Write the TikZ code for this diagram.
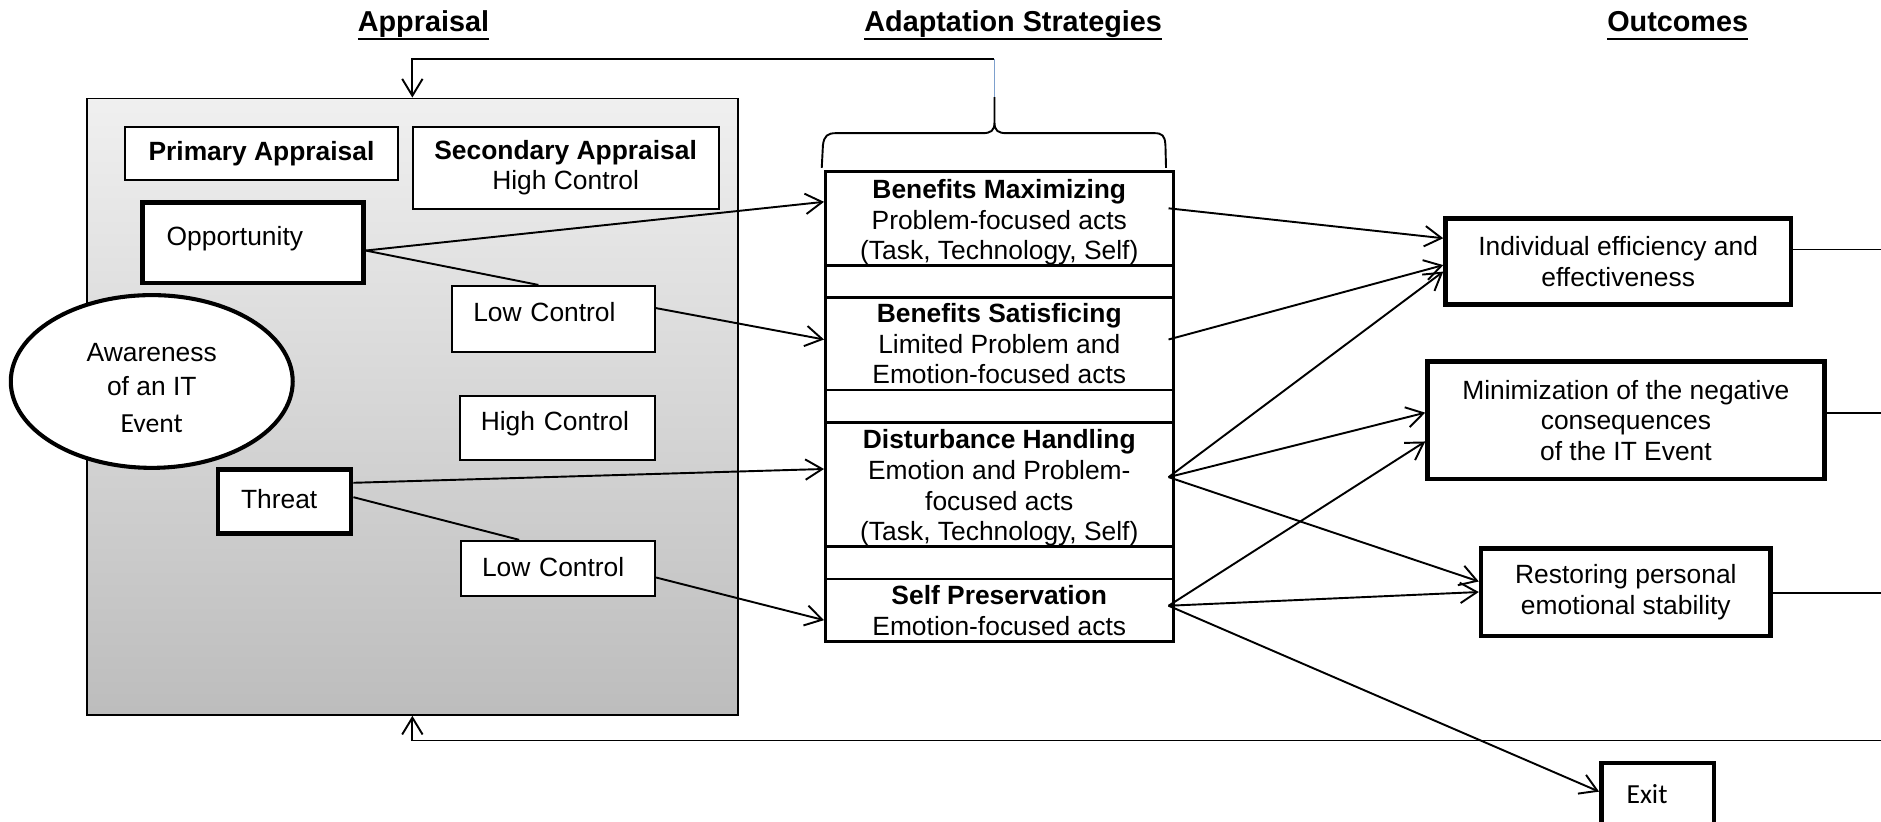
\documentclass[tikz,border=0pt]{standalone}
\usepackage{fontspec}
\setmainfont{Liberation Sans}
\newfontfamily\calib{Carlito}
\usetikzlibrary{arrows.meta,shapes.geometric}
\definecolor{fbblue}{RGB}{125,160,205}
\newcommand{\headtxt}[1]{\vtop{\hbox{#1\vphantom{gp}}\kern0.3pt\hrule height 0.8pt}}

\begin{document}
\begin{tikzpicture}[x=0.5pt,y=-0.5pt,line width=0.8pt,
  font=\fontsize{11}{12.8}\selectfont,
  >={Straight Barb[length=7pt,width=8.5pt]},
  head/.style={font=\fontsize{12}{14}\selectfont\bfseries,anchor=base,inner sep=0pt},
  cbox/.style={draw,fill=white,align=center,inner sep=0pt},
  tlbox/.style={draw,fill=white,anchor=north west,align=left,inner ysep=0pt},
  heavy/.style={line width=1.9pt},
  strat/.style={draw,fill=white,line width=1.1pt,minimum width=145pt,align=center,inner sep=0pt}]
  \useasboundingbox (0,0) rectangle (1568,685);

  % headings
  \node[head] (happr) at (353,26.4) {\headtxt{Appraisal}};
  \node[head] (hstrat) at (844.6,26.4) {\headtxt{Adaptation Strategies}};
  \node[head] (hout) at (1398.5,26.4) {\headtxt{Outcomes}};

  % appraisal panel
  \node[draw,top color=gray!12,bottom color=gray!52,minimum width=271.15pt,minimum height=256.9pt,inner sep=0pt] (appr) at (343.75,339) {};
  \node[cbox,minimum width=114pt,minimum height=22pt] (prim) at (218,128) {\textbf{Primary Appraisal}};
  \node[cbox,minimum width=127.5pt,minimum height=34.2pt] (sec) at (471.5,139.8) {\textbf{Secondary Appraisal}\\High Control};
  \node[tlbox,heavy,inner xsep=10pt,text width=72pt,text height=18pt,text depth=15.65pt] (opp) at (117,166.7) {Opportunity};
  \node[tlbox,inner xsep=9pt,text width=66.8pt,text height=14.9pt,text depth=12.85pt] (lowa) at (375.7,237.5) {Low Control};
  \node[tlbox,inner xsep=8.75pt,text width=63.9pt,text height=14.65pt,text depth=12.25pt] (higha) at (382.5,329) {High Control};
  \node[tlbox,heavy,inner xsep=9.6pt,text width=36.3pt,text height=16pt,text depth=10.65pt] (threat) at (179.8,389.7) {Threat};
  \node[tlbox,inner xsep=8.65pt,text width=63.5pt,text height=14.85pt,text depth=8.05pt] (lowb) at (383.7,450) {Low Control};
  \node[ellipse,draw,fill=white,line width=1.7pt,minimum width=117.5pt,minimum height=72pt,inner sep=0pt,align=center] (aware) at (126.5,318)
    {\rule{0pt}{13pt}Awareness\\[1.5pt]of an IT\\[2.7pt]{\calib\fontsize{11.5}{13}\selectfont Event}};

  % strategies
  \node[strat,minimum height=39.25pt] (bm) at (833,182.25) {\rule{0pt}{11pt}\textbf{Benefits Maximizing}\\Problem-focused acts\\(Task, Technology, Self)};
  \node[strat,minimum height=13.25pt] (gapa) at (833,234.75) {};
  \node[strat,minimum height=38.5pt] (bs) at (833,286.5) {\textbf{Benefits Satisficing}\\Limited Problem and\\Emotion-focused acts};
  \node[strat,minimum height=13.5pt] (gapb) at (833,338.5) {};
  \node[strat,minimum height=51.75pt] (dh) at (833,403.75) {\rule{0pt}{11pt}\textbf{Disturbance Handling}\\Emotion and Problem-\\focused acts\\(Task, Technology, Self)};
  \node[strat,minimum height=13.5pt] (gapc) at (833,469) {};
  \node[strat,minimum height=26.25pt] (sp) at (833,508.75) {\textbf{Self Preservation}\\Emotion-focused acts};

  % brace over the strategies
  \coordinate (btip) at (829,81);
  \draw (685,140) -- (686,121) .. controls (687,113) and (690,111) .. (697,111) -- (819,111)
    .. controls (826,111) and (829,109) .. (829,102) -- (btip)
    (829,102) .. controls (829,109) and (832,111) .. (839,111) -- (962,111)
    .. controls (969,111) and (971,113) .. (971.5,121) -- (972,140);

  % outcomes
  \node[cbox,heavy,minimum width=143.9pt,minimum height=36pt] (indiv) at (1348.9,218) {Individual efficiency and\\effectiveness};
  \node[cbox,heavy,minimum width=165.35pt,minimum height=49pt] (mini) at (1355.35,350.4) {Minimization of the negative\\consequences\\of the IT Event};
  \node[cbox,heavy,minimum width=120.7pt,minimum height=36.5pt] (rest) at (1355.3,493.5) {Restoring personal\\emotional stability};
  \node[tlbox,heavy,inner xsep=10.5pt,text width=26pt,text height=17pt,text depth=16pt,font=\calib\fontsize{11.5}{13}\selectfont] (exit) at (1333,634) {Exit};

  % appraisal -> strategies
  \draw[->] ([yshift=-3.3pt]opp.east) -- ([yshift=7pt]bm.west);
  \draw ([yshift=-3.3pt]opp.east) -- ([xshift=-6.25pt]lowa.north);
  \draw[->] ([yshift=4.6pt]lowa.east) -- ([yshift=1.75pt]bs.west);
  \draw[->] ([yshift=7.9pt]threat.east) -- ([yshift=6.4pt]dh.west);
  \draw ([yshift=1.9pt]threat.east) -- ([xshift=-16.25pt]lowb.north);
  \draw[->] ([yshift=-3.85pt]lowb.east) -- ([yshift=-4.1pt]sp.west);

  % strategies -> outcomes
  \coordinate (dhout) at ([xshift=-2.5pt,yshift=3pt]dh.east);
  \coordinate (spout) at ([xshift=-2.5pt,yshift=1.9pt]sp.east);
  \draw[->] ([xshift=-2.5pt,yshift=4.3pt]bm.east) -- ([yshift=9.7pt]indiv.west);
  \draw[->] ([xshift=-2.5pt,yshift=1.75pt]bs.east) -- ([yshift=-1.5pt]indiv.west);
  \draw[->] (dhout) -- ([yshift=-4.2pt]indiv.west);
  \draw[->] (dhout) -- ([yshift=3.2pt]mini.west);
  \draw[->] (dhout) -- ([yshift=4.4pt]rest.west);
  \draw[->] (spout) -- ([yshift=-8.8pt]mini.west);
  \draw[->] (spout) -- (rest.west);
  \draw[->] (spout) -- ([yshift=4.5pt]exit.west);

  % feedback
  \coordinate (fbtop) at (829,49.4);
  \coordinate (rim) at (1568,617.3);
  \coordinate (indout) at ([yshift=5pt]indiv.east);
  \coordinate (minout) at ([yshift=3pt]mini.east);
  \coordinate (resout) at ([yshift=-0.5pt]rest.east);
  \draw[fbblue] (btip) -- (fbtop);
  \draw[->] (fbtop) -| (appr.north);
  \draw[->] (rim) -| (appr.south);
  \draw (indout) -- (indout -| rim);
  \draw (minout) -- (minout -| rim);
  \draw (resout) -- (resout -| rim);
\end{tikzpicture}
\end{document}
